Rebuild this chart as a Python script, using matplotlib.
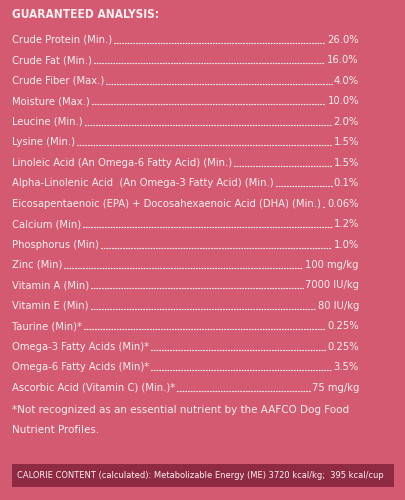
import matplotlib
matplotlib.use("Agg")
import matplotlib.pyplot as plt
from matplotlib.patches import Rectangle

title = "GUARANTEED ANALYSIS:"
labels = ["Crude Protein (Min.)", "Crude Fat (Min.)", "Crude Fiber (Max.)", "Moisture (Max.)",
          "Leucine (Min.)", "Lysine (Min.)", "Linoleic Acid (An Omega-6 Fatty Acid) (Min.)",
          "Alpha-Linolenic Acid  (An Omega-3 Fatty Acid) (Min.)",
          "Eicosapentaenoic (EPA) + Docosahexaenoic Acid (DHA) (Min.)",
          "Calcium (Min)", "Phosphorus (Min)", "Zinc (Min)", "Vitamin A (Min)", "Vitamin E (Min)",
          "Taurine (Min)*", "Omega-3 Fatty Acids (Min)*", "Omega-6 Fatty Acids (Min)*",
          "Ascorbic Acid (Vitamin C) (Min.)*"]
values = ["26.0%", "16.0%", "4.0%", "10.0%", "2.0%", "1.5%", "1.5%", "0.1%", "0.06%",
          "1.2%", "1.0%", "100 mg/kg", "7000 IU/kg", "80 IU/kg", "0.25%", "0.25%", "3.5%", "75 mg/kg"]
note = ["*Not recognized as an essential nutrient by the AAFCO Dog Food", "Nutrient Profiles."]
calorie = "CALORIE CONTENT (calculated): Metabolizable Energy (ME) 3720 kcal/kg;  395 kcal/cup"

W, H = 406, 500
bg = "#D35A70"
fig = plt.figure(figsize=(W/100, H/100), dpi=100, facecolor=bg)
ax = fig.add_axes([0, 0, 1, 1])
ax.set_xlim(0, W); ax.set_ylim(H, 0); ax.axis("off")
fam = ["DejaVu Sans"]
kw = dict(color="#FBEFF2", family=fam, fontstretch="condensed", va="center")
fc = "#FBEFF2"

r = fig.canvas.get_renderer()
inv = ax.transData.inverted()

def width(t):
    e = t.get_window_extent(r)
    return e.width

def fit(t, target):
    fig.canvas.draw()
    w = width(t)
    if w > target:
        t.set_fontsize(t.get_fontsize() * target / w)

tt = ax.text(12, 15, title, fontsize=12, fontweight="bold", ha="left", **kw)
fit(tt, 148)

y0, dy = 40, 20.45
xr = 359
lab_txt, val_txt = [], []
for i, (l, v) in enumerate(zip(labels, values)):
    y = y0 + i*dy
    lab_txt.append(ax.text(12, y, l, fontsize=9, ha="left", **kw))
    val_txt.append(ax.text(xr, y, v, fontsize=9, ha="right", **kw))
# scale row font so longest label fits
fig.canvas.draw()
longest = lab_txt[8]
w = width(longest)
s = min(1.0, 312 / w)
for t in lab_txt + val_txt:
    t.set_fontsize(9 * s)

nt = [ax.text(12, 410 + j*20, n, fontsize=9, ha="left", **kw) for j, n in enumerate(note)]
fig.canvas.draw()
s2 = min(1.0, 336 / width(nt[0]))
for t in nt:
    t.set_fontsize(9 * s2)

ax.add_patch(Rectangle((12, 464), 382, 23, facecolor="#8E2B42", edgecolor="none"))
ct = ax.text(17, 476, calorie, fontsize=7.5, ha="left", **kw)
fit(ct, 362)

fig.canvas.draw()
for i, (lt, vt) in enumerate(zip(lab_txt, val_txt)):
    x1 = inv.transform((lt.get_window_extent(r).x1, 0))[0] + 2
    x2 = inv.transform((vt.get_window_extent(r).x0, 0))[0] - 2
    y = y0 + i*dy + 3
    if x2 > x1:
        ax.plot([x1, x2], [y, y], color=fc, lw=0.9, linestyle=(0, (0.6, 1.6)), dash_capstyle="round")

fig.savefig("out.png", dpi=100, facecolor=bg)
